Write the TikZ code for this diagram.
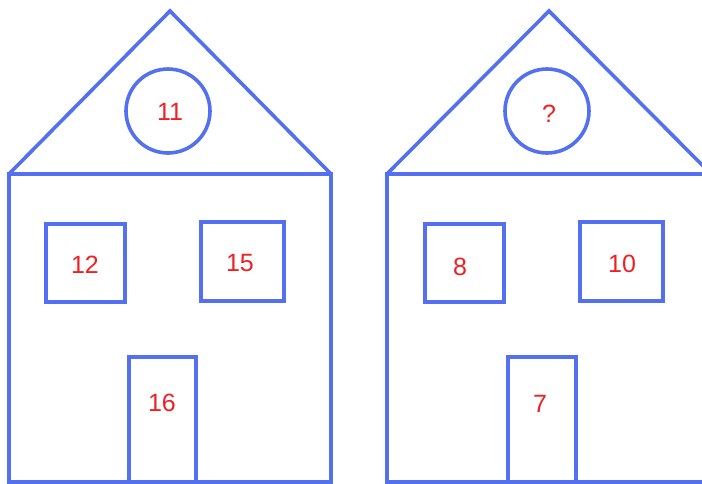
\documentclass[tikz,border=0pt]{standalone}
\usepackage{fontspec}
\setmainfont{Liberation Sans}
\usetikzlibrary{positioning}
\definecolor{wallblue}{RGB}{82,112,240}
\definecolor{numred}{RGB}{238,32,36}
\tikzset{
    wall/.style={draw=wallblue, line width=3.6pt},
    pane/.style={rectangle, draw=wallblue, line width=3.6pt, inner sep=0pt},
    roundwin/.style={circle, draw=wallblue, line width=3.6pt, minimum size=84pt, inner sep=0pt},
    num/.style={text=numred, font=\fontsize{25}{28}\selectfont, inner sep=0pt}
}

\begin{document}
\begin{tikzpicture}[x=1pt, y=-1pt]
    \useasboundingbox (0,0) rectangle (702,484);
    \clip (0,0) rectangle (702,484);

    % left house
    \coordinate (lroofL) at (9,174);
    \coordinate (lroofR) at (331,174);
    \coordinate (ltop) at (170,11);
    \draw[wall] (lroofL) rectangle (331,482);
    \draw[wall] (lroofL) -- (ltop) -- (lroofR);
    \node[roundwin] (lcirc) at (168,111) {};
    \node[num] at (170,112) (lcircnum) {11};
    \node[pane, minimum width=79pt, minimum height=78pt] (lwinA) at (85.5,263) {};
    \node[num] at (85,265) (lwinAnum) {12};
    \node[pane, minimum width=83pt, minimum height=79pt] (lwinB) at (242.5,261.5) {};
    \node[num] at (240,263) (lwinBnum) {15};
    \node[pane, minimum width=67pt, minimum height=125pt] (ldoor) at (162.5,419.5) {};
    \node[num] at (162,403) (ldoornum) {16};

    % right house
    \coordinate (rroofL) at (387,174);
    \coordinate (rroofR) at (711,174);
    \coordinate (rtop) at (549,11);
    \draw[wall] (rroofL) rectangle (711,482);
    \draw[wall] (rroofL) -- (rtop) -- (rroofR);
    \node[roundwin] (rcirc) at (547,111) {};
    \node[num] at (549,114) (rcircnum) {?};
    \node[pane, minimum width=79pt, minimum height=78pt] (rwinA) at (464.5,263) {};
    \node[num] at (460,267) (rwinAnum) {8};
    \node[pane, minimum width=83pt, minimum height=79pt] (rwinB) at (621.5,261.5) {};
    \node[num] at (622,264) (rwinBnum) {10};
    \node[pane, minimum width=68pt, minimum height=125pt] (rdoor) at (542,419.5) {};
    \node[num] at (540,404) (rdoornum) {7};

\end{tikzpicture}
\end{document}
